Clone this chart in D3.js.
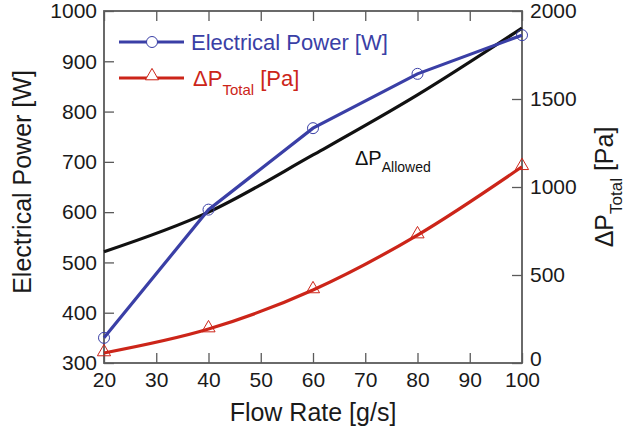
<!DOCTYPE html>
<html>
<head>
<meta charset="utf-8">
<script src="https://cdn.jsdelivr.net/npm/d3@7"></script>
<style>
  body { margin: 0; background: #fff; }
  svg { font-family: 'Liberation Sans', Arial, sans-serif; }
</style>
</head>
<body>
<div id="chart"></div>
<script>
// values
const flowRate = [20, 40, 60, 80, 100]
const powerW = [350, 605, 767, 875, 952]
const dpTotal = [57, 193, 415, 727, 1115]
const dpAllowed = [632, 857, 1182, 1523, 1903]
const xTicks = [20, 30, 40, 50, 60, 70, 80, 90, 100]
const leftTicks = [300, 400, 500, 600, 700, 800, 900, 1000]
const rightTicks = [0, 500, 1000, 1500, 2000]

const width = 630
const height = 432
const margin = { top: 11, right: 108, bottom: 69, left: 104 }

const blue = '#3a3fa6'
const red = '#cc2519'
const axisColor = '#5a5a5a'
const textColor = '#1a1a1a'

const svg = d3.select('#chart').append('svg')
  .attr('width', width)
  .attr('height', height)

const x = d3.scaleLinear().domain([20, 100]).range([margin.left, width - margin.right])
const yL = d3.scaleLinear().domain([300, 1000]).range([height - margin.bottom, margin.top])
const yR = d3.scaleLinear().domain([0, 2000]).range([height - margin.bottom, margin.top])

const tickLen = 10
const fmt = d3.format('d')

function styleAxis(g) {
  g.select('.domain').remove()
  g.selectAll('.tick line').attr('stroke', axisColor).attr('stroke-width', 1.3)
  g.selectAll('.tick text').attr('fill', textColor).attr('font-size', 21)
}

// bottom and top ticks, pointing inward
svg.append('g')
  .attr('transform', `translate(0,${height - margin.bottom})`)
  .call(d3.axisBottom(x).tickValues(xTicks).tickSize(-tickLen).tickPadding(9).tickFormat(fmt))
  .call(styleAxis)
svg.append('g')
  .attr('transform', `translate(0,${margin.top})`)
  .call(d3.axisTop(x).tickValues(xTicks).tickSize(-tickLen).tickFormat(''))
  .call(styleAxis)

svg.append('g')
  .attr('transform', `translate(${margin.left},0)`)
  .call(d3.axisLeft(yL).tickValues(leftTicks).tickSize(-tickLen).tickPadding(7).tickFormat(fmt))
  .call(styleAxis)

const rightAxis = svg.append('g')
  .attr('transform', `translate(${width - margin.right},0)`)
  .call(d3.axisRight(yR).tickValues(rightTicks).tickSize(-tickLen).tickPadding(8).tickFormat(fmt))
  .call(styleAxis)
// the "0" sits a touch above the corner, clear of the "100" below it
rightAxis.selectAll('.tick text').filter(d => d === 0).attr('dy', '0.1em')

// frame
svg.append('rect')
  .attr('x', margin.left)
  .attr('y', margin.top)
  .attr('width', width - margin.left - margin.right)
  .attr('height', height - margin.top - margin.bottom)
  .attr('fill', 'none')
  .attr('stroke', axisColor)
  .attr('stroke-width', 1.8)

const allowedLine = d3.line().x((d, i) => x(flowRate[i])).y(d => yR(d)).curve(d3.curveMonotoneX)
const totalLine = d3.line().x((d, i) => x(flowRate[i])).y(d => yR(d)).curve(d3.curveMonotoneX)
const powerLine = d3.line().x((d, i) => x(flowRate[i])).y(d => yL(d))

svg.append('path').datum(dpAllowed)
  .attr('d', allowedLine)
  .attr('fill', 'none').attr('stroke', '#111').attr('stroke-width', 3.2)

svg.append('path').datum(powerW)
  .attr('d', powerLine)
  .attr('fill', 'none').attr('stroke', blue).attr('stroke-width', 3.2)

svg.append('path').datum(dpTotal)
  .attr('d', totalLine)
  .attr('fill', 'none').attr('stroke', red).attr('stroke-width', 3.2)

const tri = d3.symbol().type(d3.symbolTriangle).size(75)

svg.selectAll('.pt-power').data(powerW).join('circle')
  .attr('cx', (d, i) => x(flowRate[i]))
  .attr('cy', d => yL(d))
  .attr('r', 5.5)
  .attr('fill', 'none').attr('stroke', blue).attr('stroke-width', 1)

svg.selectAll('.pt-total').data(dpTotal).join('path')
  .attr('d', tri)
  .attr('transform', (d, i) => `translate(${x(flowRate[i])},${yR(d) - 1})`)
  .attr('fill', 'none').attr('stroke', red).attr('stroke-width', 1)

// legend
const legend = svg.append('g')
legend.append('line').attr('x1', 119).attr('x2', 184).attr('y1', 42).attr('y2', 42)
  .attr('stroke', blue).attr('stroke-width', 3.2)
legend.append('circle').attr('cx', 152).attr('cy', 42).attr('r', 5.5)
  .attr('fill', '#fff').attr('stroke', blue).attr('stroke-width', 1)
legend.append('text').attr('x', 191).attr('y', 50).attr('font-size', 22).attr('fill', blue)
  .text('Electrical Power [W]')

legend.append('line').attr('x1', 119).attr('x2', 184).attr('y1', 78).attr('y2', 78)
  .attr('stroke', red).attr('stroke-width', 3.2)
legend.append('path').attr('d', tri).attr('transform', 'translate(152,76)')
  .attr('fill', '#fff').attr('stroke', red).attr('stroke-width', 1)
const lt = legend.append('text').attr('x', 193).attr('y', 86).attr('font-size', 22).attr('fill', red)
lt.append('tspan').text('ΔP')
lt.append('tspan').attr('font-size', 15).attr('dy', 9).text('Total')
lt.append('tspan').attr('dy', -9).text(' [Pa]')

// ΔP allowed label
const al = svg.append('text').attr('x', 355).attr('y', 165).attr('font-size', 20).attr('fill', '#111')
al.append('tspan').text('ΔP')
al.append('tspan').attr('font-size', 14).attr('dy', 7).text('Allowed')

// axis titles
svg.append('text')
  .attr('x', x(60)).attr('y', 421)
  .attr('text-anchor', 'middle').attr('font-size', 25).attr('fill', textColor)
  .text('Flow Rate [g/s]')

svg.append('text')
  .attr('transform', 'translate(31,182) rotate(-90)')
  .attr('text-anchor', 'middle').attr('font-size', 25).attr('fill', textColor)
  .text('Electrical Power [W]')

const rt = svg.append('text')
  .attr('transform', 'translate(613,187) rotate(-90)')
  .attr('text-anchor', 'middle').attr('font-size', 25).attr('fill', textColor)
rt.append('tspan').text('ΔP')
rt.append('tspan').attr('font-size', 17).attr('dy', 9).text('Total')
rt.append('tspan').attr('dy', -9).text(' [Pa]')
</script>
</body>
</html>
